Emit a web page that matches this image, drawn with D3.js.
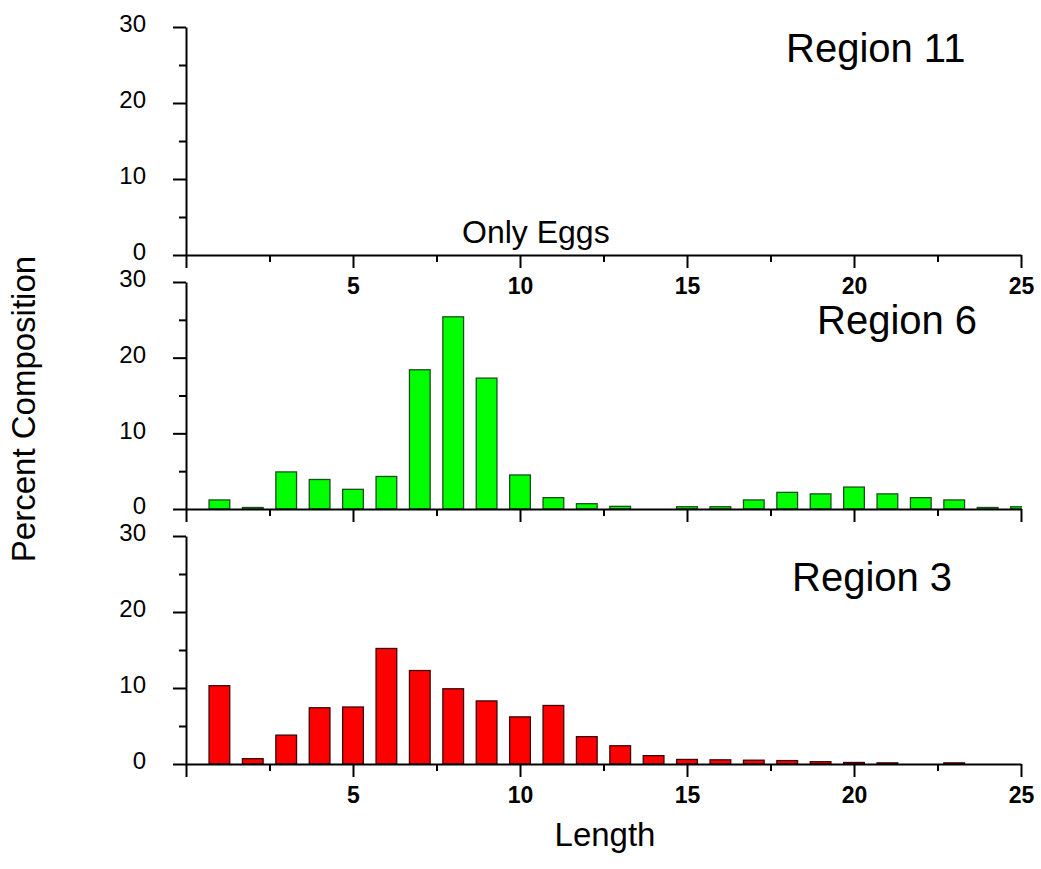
<!DOCTYPE html>
<html><head><meta charset="utf-8">
<script src="https://cdn.jsdelivr.net/npm/d3@7"></script>
<style>body{margin:0;background:#fff}svg{display:block}text{font-family:"Liberation Sans",Arial,sans-serif}</style>
</head><body><svg id="c" width="1041" height="869"></svg>
<script>
const lengths = d3.range(1, 26);
const region11 = []; // only eggs
const region6 = [1.2,0.2,4.9,3.9,2.6,4.3,18.4,25.4,17.3,4.5,1.5,0.7,0.35,0,0.3,0.3,1.2,2.2,2.0,2.9,2.0,1.5,1.2,0.2,0.3];
const region3 = [10.3,0.7,3.8,7.4,7.5,15.2,12.3,9.9,8.3,6.2,7.7,3.6,2.4,1.1,0.6,0.55,0.5,0.45,0.3,0.2,0.15,0,0.15,0,0];
const xTicksMajor = [0,5,10,15,20,25];
const xTicksMinor = [2.5,7.5,12.5,17.5,22.5];
const yTicksMajor = [0,10,20,30];
const yTicksMinor = [5,15,25];
const panels = [
  {name:"Region 11", values:region11, top:27, bottom:255, fill:"#00ff00", stroke:"#1d4f1d", labels:true, lx:786, ly:62, note:"Only Eggs"},
  {name:"Region 6", values:region6, top:282, bottom:509, fill:"#00ff00", stroke:"#1d4f1d", labels:false, lx:817, ly:334},
  {name:"Region 3", values:region3, top:536, bottom:764, fill:"#ff0000", stroke:"#3d0505", labels:true, lx:792, ly:591}
];
const svg = d3.select("#c");
const x = d3.scaleLinear().domain([0,25]).range([186,1021]);
const barW = 0.62;
svg.append("clipPath").attr("id","clip").append("rect").attr("x",185).attr("y",0).attr("width",1022-185).attr("height",869);

panels.forEach(p => {
  const y = d3.scaleLinear().domain([0,30]).range([p.bottom,p.top]);
  const g = svg.append("g");
  g.append("g").attr("clip-path","url(#clip)").selectAll("rect")
    .data(p.values.map((v,i)=>({x:lengths[i],v})).filter(d=>d.v>0))
    .join("rect")
    .attr("x",d=>x(d.x-barW/2)).attr("width",d=>x(d.x+barW/2)-x(d.x-barW/2))
    .attr("y",d=>y(d.v)).attr("height",d=>y(0)-y(d.v))
    .attr("fill",p.fill).attr("stroke",p.stroke).attr("stroke-width",1.3);
  const ya = g.append("g").attr("transform",`translate(${x(0)},0)`)
    .call(d3.axisLeft(y).tickValues(yTicksMajor).tickSize(13).tickSizeOuter(0).tickFormat(d3.format("d")));
  ya.call(a=>a.select(".domain").attr("stroke-width",2));
  ya.selectAll(".tick line").attr("stroke-width",2);
  ya.selectAll(".tick text").attr("font-size",24).attr("font-family","Liberation Sans, Arial, sans-serif")
    .attr("x",-40).attr("dy","0.2em").attr("fill","#000");
  const ym = g.append("g").attr("transform",`translate(${x(0)},0)`)
    .call(d3.axisLeft(y).tickValues(yTicksMinor).tickSize(7).tickSizeOuter(0).tickFormat(""));
  ym.select(".domain").remove();
  ym.selectAll(".tick line").attr("stroke-width",2);
  const xa = g.append("g").attr("transform",`translate(0,${p.bottom})`)
    .call(d3.axisBottom(x).tickValues(xTicksMajor).tickSize(13).tickSizeOuter(0)
      .tickFormat(d => (p.labels && d>0) ? d : ""));
  xa.select(".domain").attr("stroke-width",2);
  xa.selectAll(".tick line").attr("stroke-width",2);
  xa.selectAll(".tick text").attr("font-size",23).attr("font-weight","bold")
    .attr("font-family","Liberation Sans, Arial, sans-serif").attr("y",23).attr("dy","0.71em").attr("fill","#000");
  const xm = g.append("g").attr("transform",`translate(0,${p.bottom})`)
    .call(d3.axisBottom(x).tickValues(xTicksMinor).tickSize(7).tickSizeOuter(0).tickFormat(""));
  xm.select(".domain").remove();
  xm.selectAll(".tick line").attr("stroke-width",2);
  g.append("text").attr("x",p.lx).attr("y",p.ly).attr("font-size",40).attr("fill","#000").text(p.name);
  if (p.note) g.append("text").attr("x",462).attr("y",243).attr("font-size",32).attr("fill","#000").text(p.note);
});
svg.append("text").attr("transform","translate(35,409) rotate(-90)").attr("text-anchor","middle")
  .attr("font-size",33).attr("fill","#000").text("Percent Composition");
svg.append("text").attr("x",605).attr("y",846).attr("text-anchor","middle")
  .attr("font-size",33).attr("fill","#000").text("Length");
</script></body></html>
